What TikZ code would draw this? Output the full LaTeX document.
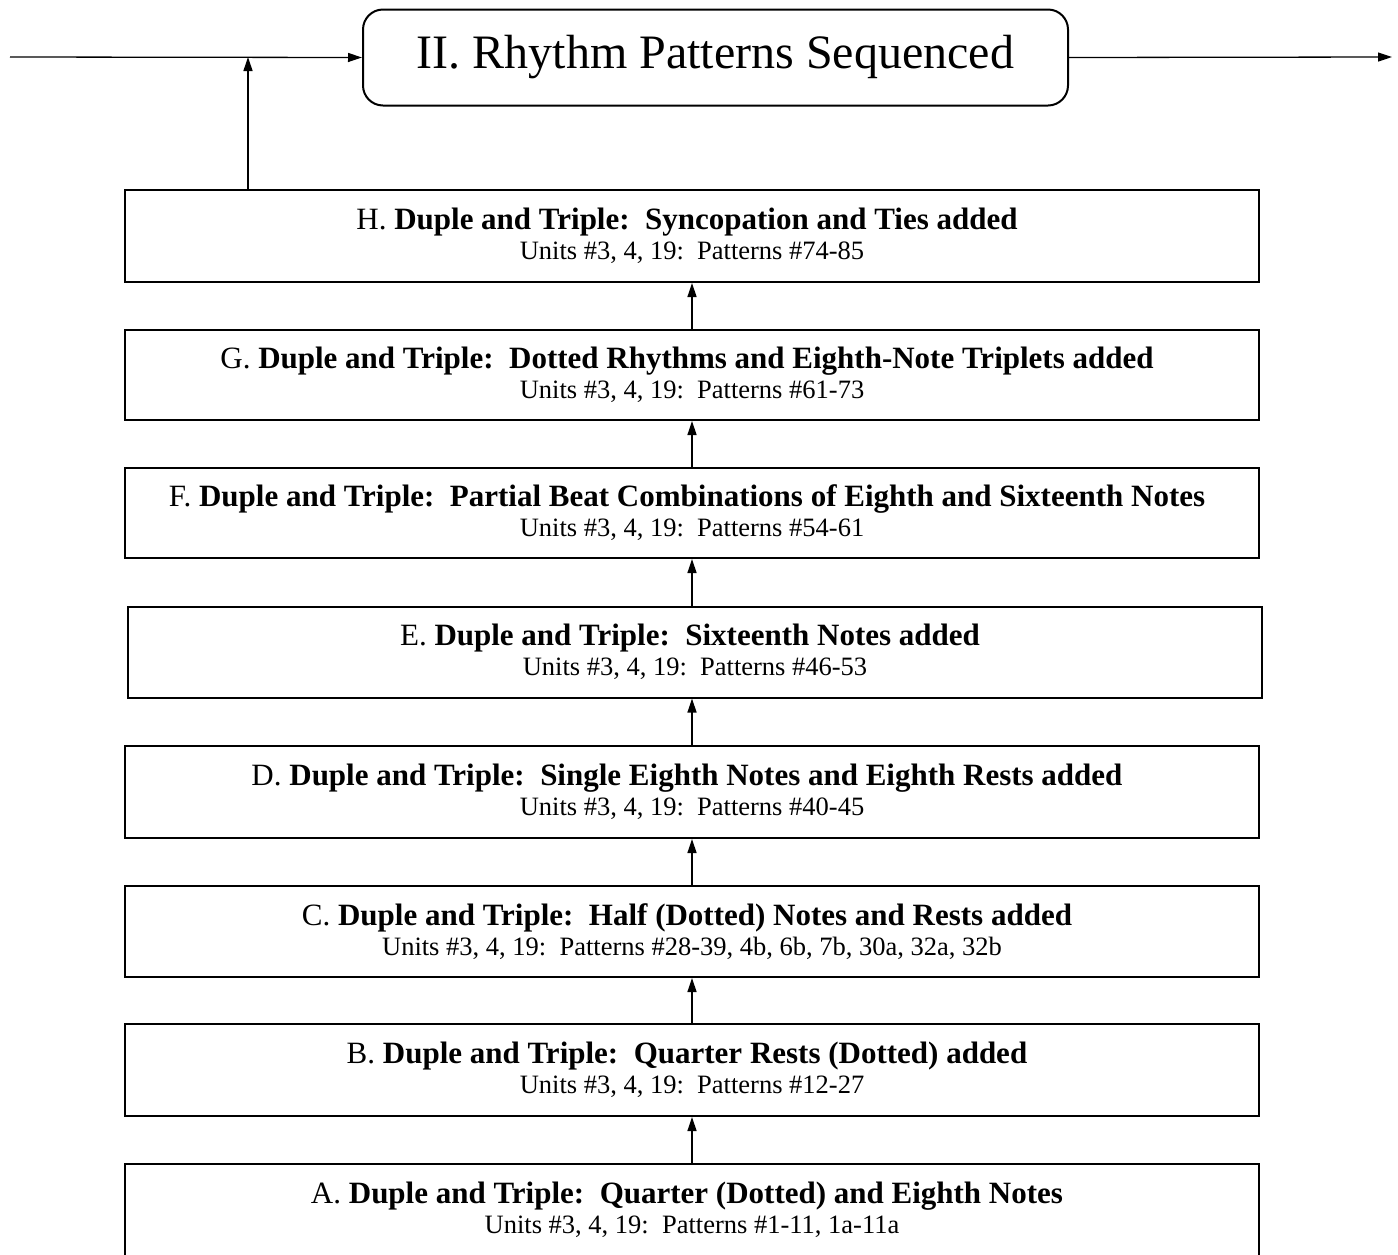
\documentclass[tikz,border=0pt]{standalone}
\usepackage{fontspec}
\setmainfont{Liberation Serif}
\usetikzlibrary{arrows.meta}
\begin{document}
\begin{tikzpicture}[x=1pt,y=-1pt,
  stagebox/.style={draw, line width=2pt, minimum width=1134pt, inner sep=0pt, align=center,
    font=\fontsize{31}{30}\selectfont},
  titlebox/.style={draw, line width=2pt, rounded corners=20pt, minimum width=705pt, minimum height=96pt,
    inner sep=0pt, font=\fontsize{48}{52}\selectfont},
  conn/.style={line width=1.3pt, -{Triangle[length=14pt,width=9pt]}}]
\useasboundingbox (0,0) rectangle (1398,1254);
% #1 letter, #2 bold text, #3 sub line
\newcommand{\stagetext}[3]{#1. \textbf{#2}\hspace*{10pt}\\{\fontsize{26.5}{30}\selectfont #3}}
\node[titlebox] (T) at (715.5,57.5) {II. Rhythm Patterns Sequenced};
\node[stagebox, minimum height=92pt] (H) at (692,236) {\stagetext{H}{Duple and Triple:\ \ Syncopation and Ties added}{Units \#3, 4, 19:\ \ Patterns \#74-85}};
\node[stagebox, minimum height=90pt] (G) at (692,375) {\stagetext{G}{Duple and Triple:\ \ Dotted Rhythms and Eighth-Note Triplets added}{Units \#3, 4, 19:\ \ Patterns \#61-73}};
\node[stagebox, minimum height=90pt] (F) at (692,513) {\stagetext{F}{Duple and Triple:\ \ Partial Beat Combinations of Eighth and Sixteenth Notes}{Units \#3, 4, 19:\ \ Patterns \#54-61}};
\node[stagebox, minimum height=91pt] (E) at (695,652) {\stagetext{E}{Duple and Triple:\ \ Sixteenth Notes added}{Units \#3, 4, 19:\ \ Patterns \#46-53}};
\node[stagebox, minimum height=92pt] (D) at (692,792) {\stagetext{D}{Duple and Triple:\ \ Single Eighth Notes and Eighth Rests added}{Units \#3, 4, 19:\ \ Patterns \#40-45}};
\node[stagebox, minimum height=91pt] (C) at (692,931.5) {\stagetext{C}{Duple and Triple:\ \ Half (Dotted) Notes and Rests added}{Units \#3, 4, 19:\ \ Patterns \#28-39, 4b, 6b, 7b, 30a, 32a, 32b}};
\node[stagebox, minimum height=92pt] (B) at (692,1070) {\stagetext{B}{Duple and Triple:\ \ Quarter Rests (Dotted) added}{Units \#3, 4, 19:\ \ Patterns \#12-27}};
\node[stagebox, minimum height=92pt] (A) at (692,1210) {\stagetext{A}{Duple and Triple:\ \ Quarter (Dotted) and Eighth Notes}{Units \#3, 4, 19:\ \ Patterns \#1-11, 1a-11a}};
\coordinate (in) at (10,57);
\coordinate (out) at (1392,57);
\coordinate (j) at (248,57);
\draw[conn] (in) -- (T.west);
\draw[conn] (T.east) -- (out);
\draw[conn] (H.north -| j) -- (j);
\draw[conn] (A.north) -- (B.south);
\draw[conn] (B.north) -- (C.south);
\draw[conn] (C.north) -- (D.south);
\draw[conn] (D.north) -- (D.north |- E.south);
\draw[conn] (E.north -| F.south) -- (F.south);
\draw[conn] (F.north) -- (G.south);
\draw[conn] (G.north) -- (H.south);
\end{tikzpicture}
\end{document}
